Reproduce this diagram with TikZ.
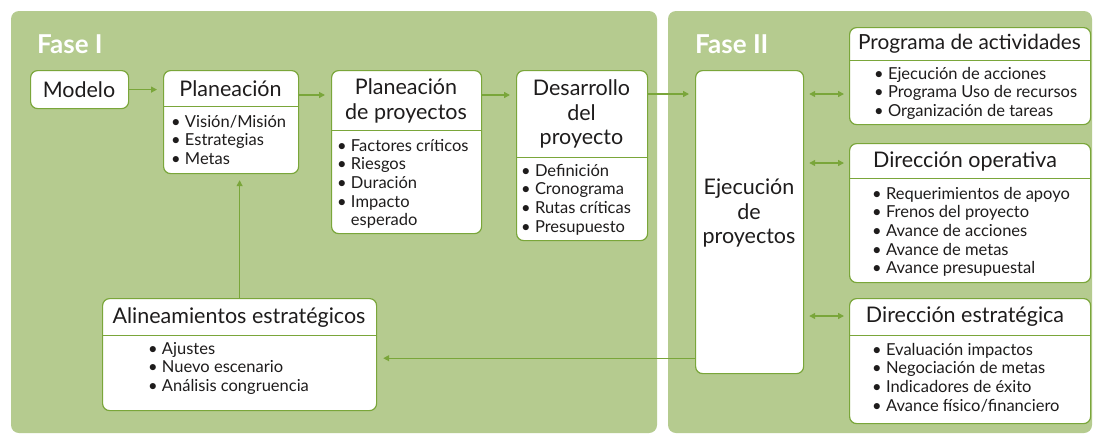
\documentclass[tikz,border=0pt]{standalone}
\usepackage{fontspec}
\setmainfont{Lato}
\usetikzlibrary{arrows.meta}
\definecolor{panel}{RGB}{181,203,143}
\definecolor{edge}{RGB}{122,166,58}
\definecolor{ink}{RGB}{30,28,28}
\begin{document}
\begin{tikzpicture}[x=1pt,y=-1pt,
  box/.style={draw=edge, line width=1.2pt, fill=white, rounded corners=7pt, inner sep=0pt, anchor=north west},
  head/.style={text=ink, font=\fontsize{21.5}{24.5}\selectfont, align=center, inner sep=0pt},
  list/.style={text=ink, font=\fontsize{16.5}{18.6}\selectfont, align=left, inner sep=0pt, anchor=north west},
  divline/.style={draw=edge, line width=1pt},
  arr/.style={draw=edge, line width=1.3pt, -{Triangle[length=6pt,width=6pt]}, shorten >=6pt},
  darr/.style={draw=edge, line width=1.3pt, {Triangle[length=6pt,width=6pt]}-{Triangle[length=6pt,width=6pt]}, shorten >=5pt, shorten <=5pt},
  phase/.style={text=white, font=\fontsize{26}{28}\selectfont\bfseries, anchor=west, inner sep=0pt}]
\useasboundingbox (0,0) rectangle (1100,434);
\fill[white] (0,0) rectangle (1100,434);
\fill[panel, rounded corners=8pt] (11,11) rectangle (657,433);
\fill[panel, rounded corners=8pt] (668,11) rectangle (1092,433);
\node[phase] (f1) at (37,44) {Fase I};
\node[phase] (f2) at (695,44) {Fase II};

% Modelo
\node[box, minimum width=98pt, minimum height=38pt] (modelo) at (30,70) {};
\node[head] (modelot) at (79,90) {Modelo};

% Planeacion
\node[box, minimum width=135pt, minimum height=103pt] (plan) at (163,70) {};
\node[head] (plant) at (230.5,89) {Planeación};
\draw[divline] (163,106) -- (298,106);
\node[list] (planl) at (171,115) {• Visión/Misión\\• Estrategias\\• Metas};

% Planeacion de proyectos
\node[box, minimum width=150pt, minimum height=163pt] (pdp) at (331,70) {};
\node[head] (pdpt) at (406,101) {Planeación\\de proyectos};
\draw[divline] (331,130) -- (481,130);
\node[list] (pdpl) at (337,139) {• Factores críticos\\• Riesgos\\• Duración\\• Impacto\\\hphantom{• }esperado};

% Desarrollo
\node[box, minimum width=131pt, minimum height=170pt] (des) at (516,70) {};
\node[head] (dest) at (581.5,114) {Desarrollo\\del\\proyecto};
\draw[divline] (516,157) -- (647,157);
\node[list] (desl) at (521,164) {• Definición\\• Cronograma\\• Rutas críticas\\• Presupuesto};

% Ejecucion
\node[box, minimum width=108pt, minimum height=303pt] (eje) at (695,70) {};
\node[head] (ejet) at (749,213) {Ejecución\\de\\proyectos};

% Programa de actividades
\node[box, minimum width=241pt, minimum height=97pt] (prog) at (849,27) {};
\node[head, font=\fontsize{20.8}{24}\selectfont] (progt) at (969.5,44) {Programa de actividades};
\draw[divline] (849,60) -- (1090,60);
\node[list] (progl) at (874,67) {• Ejecución de acciones\\• Programa Uso de recursos\\• Organización de tareas};

% Direccion operativa
\node[box, minimum width=241pt, minimum height=139pt] (dop) at (849,143) {};
\node[head] (dopt) at (965,161) {Dirección operativa};
\draw[divline] (849,178) -- (1090,178);
\node[list] (dopl) at (872,187) {• Requerimientos de apoyo\\• Frenos del proyecto\\• Avance de acciones\\• Avance de metas\\• Avance presupuestal};

% Direccion estrategica
\node[box, minimum width=241pt, minimum height=125pt] (des2) at (849,298) {};
\node[head] (des2t) at (965,317) {Dirección estratégica};
\draw[divline] (849,335) -- (1090,335);
\node[list] (des2l) at (872,343) {• Evaluación impactos\\• Negociación de metas\\• Indicadores de éxito\\• Avance físico/financiero};

% Alineamientos
\node[box, minimum width=274pt, minimum height=112pt] (alin) at (102,298) {};
\node[head] (alint) at (239,318) {Alineamientos estratégicos};
\draw[divline] (102,335) -- (376,335);
\node[list] (alinl) at (148,342) {• Ajustes\\• Nuevo escenario\\• Análisis congruencia};

% connectors
\draw[arr] (modelo.east) -- (modelo.east -| plan.west);
\draw[arr] ([yshift=-25pt]plan.north east) -- ([yshift=-25pt]pdp.north west);
\draw[arr] ([yshift=-25pt]pdp.north east) -- ([yshift=-25pt]des.north west);
\draw[arr] ([yshift=-24pt]des.north east) -- ([yshift=-24pt]eje.north west);
\draw[darr] ([yshift=-24pt]eje.north east) -- ([yshift=-24pt]eje.north east -| prog.west);
\draw[darr] ([yshift=-93pt]eje.north east) -- ([yshift=-93pt]eje.north east -| dop.west);
\draw[darr] ([yshift=-246pt]eje.north east) -- ([yshift=-246pt]eje.north east -| des2.west);
\draw[arr] ([yshift=16pt]eje.south west) -- ([yshift=16pt]eje.south west -| alin.east);
\draw[arr] (alin.north) -- (alin.north |- plan.south);
\end{tikzpicture}
\end{document}
